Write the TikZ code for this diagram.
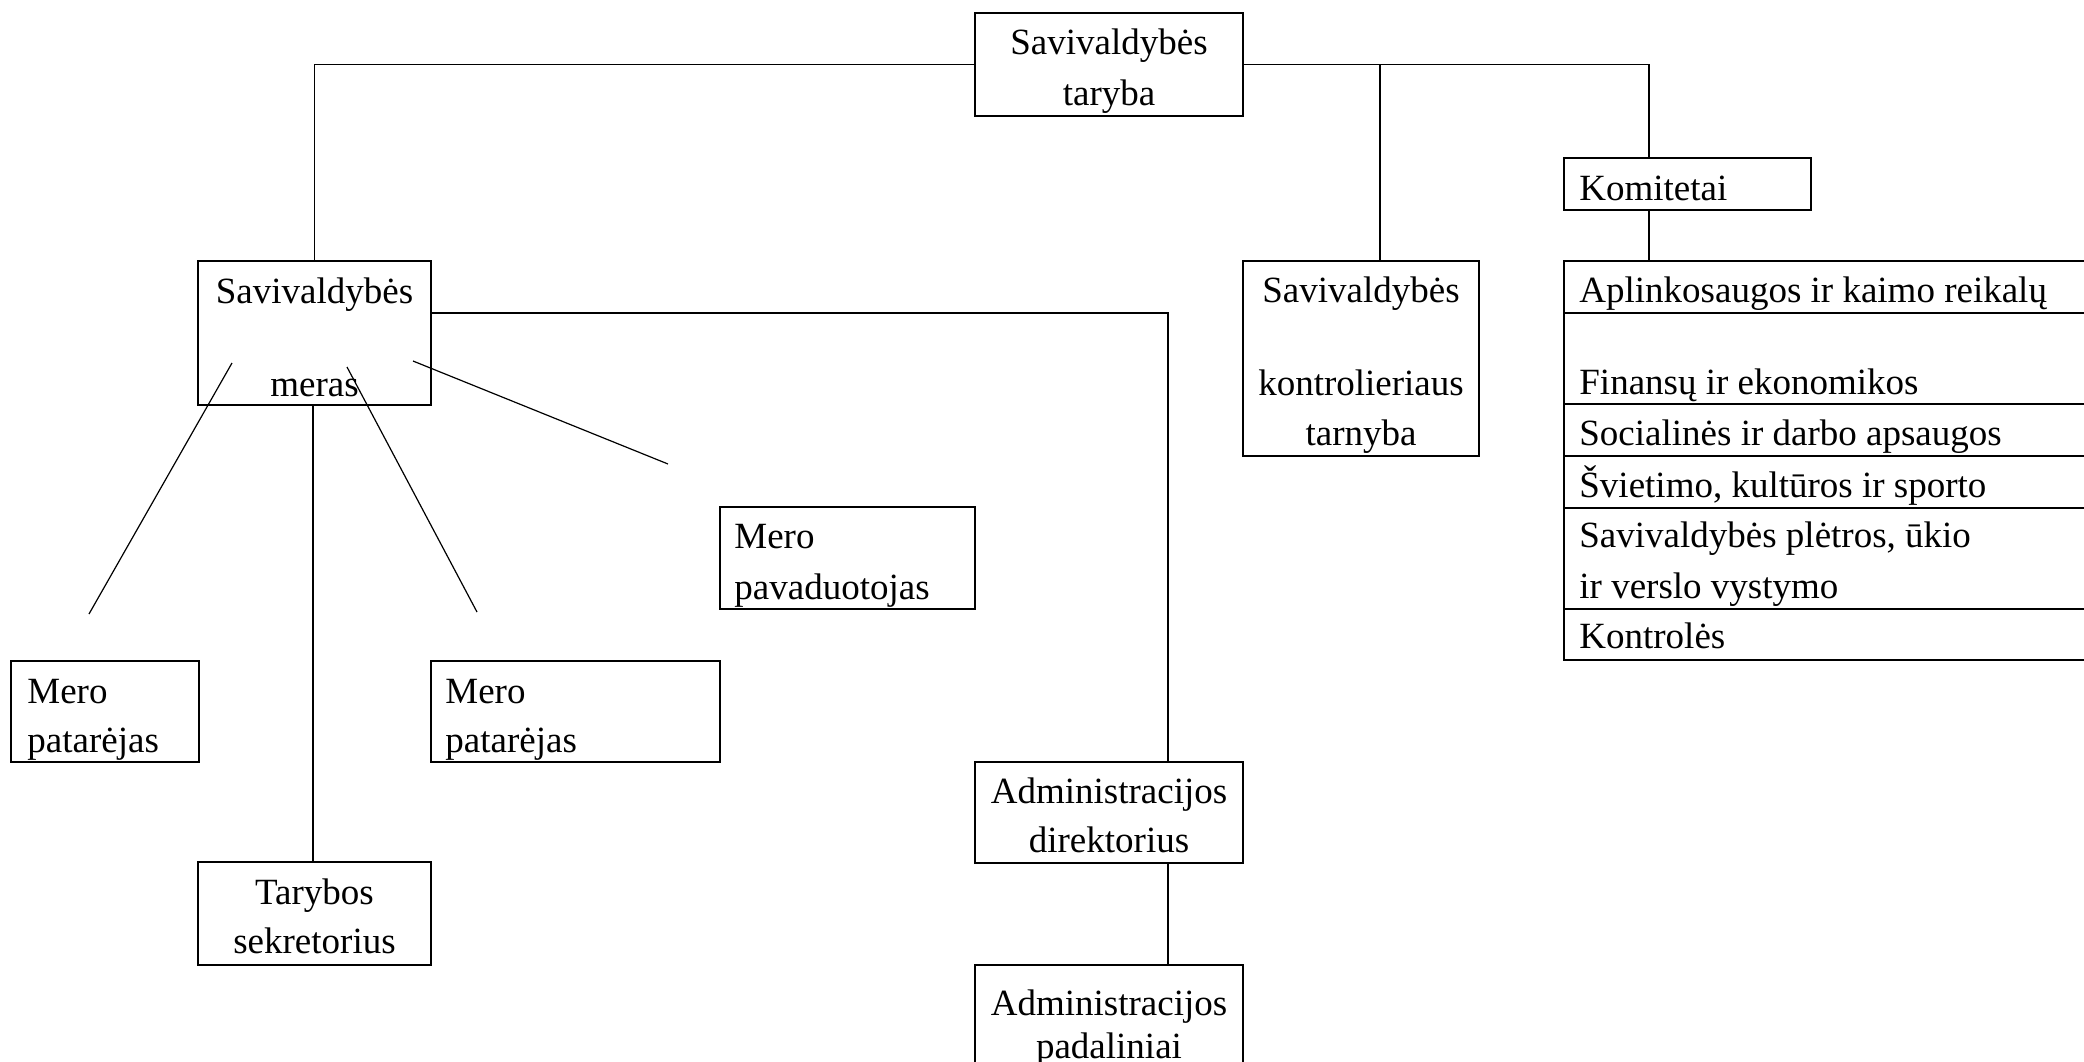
\documentclass[tikz,border=0pt]{standalone}
\usepackage{fontspec}
\setmainfont{Liberation Serif}
\usetikzlibrary{fit}
\begin{document}
\begin{tikzpicture}[x=0.5pt,y=-0.5pt,
  box/.style={draw, line width=1pt, inner sep=0pt, fill=none},
  conn/.style={line width=0.9pt},
  diag/.style={line width=0.6pt},
  sep/.style={line width=1pt},
  txt/.style={font=\fontsize{18.5}{24}\selectfont, inner sep=0pt},
  ctr/.style={txt, anchor=base},
  lft/.style={txt, anchor=base west}]
\useasboundingbox (0,0) rectangle (2084,1061);
\clip (0,0) rectangle (2084,1061);
\fill[white] (0,0) rectangle (2084,1061);

% --- boxes ---
\node[box, fit={(975,13) (1243,116)}] (taryba) {};
\node[box, fit={(198,261) (431,405)}] (meras) {};
\node[box, fit={(1243,261) (1479,456)}] (kontrol) {};
\node[box, fit={(1564,158) (1811,210)}] (komitetai) {};
\node[box, fit={(1564,261) (2120,660)}] (komlist) {};
\node[box, fit={(720,507) (975,609)}] (pavad) {};
\node[box, fit={(11,661) (199,762)}] (patar1) {};
\node[box, fit={(431,661) (720,762)}] (patar2) {};
\node[box, fit={(198,862) (431,965)}] (sekret) {};
\node[box, fit={(975,762) (1243,863)}] (direkt) {};
\node[box, fit={(975,965) (1243,1100)}] (padal) {};

% --- committee rows ---
\foreach \yy in {313,404,456,508,609}
  \draw[sep] (komlist.west |- 0,\yy) -- (komlist.east |- 0,\yy);

% --- texts ---
\node[ctr] (t-taryba1) at (1109,54) {Savivaldybės};
\node[ctr] (t-taryba2) at (1109,105) {taryba};
\node[ctr] (t-meras1) at (314.5,303) {Savivaldybės};
\node[ctr] (t-meras2) at (314.5,396) {meras};
\node[ctr] (t-kontrol1) at (1361,302.5) {Savivaldybės};
\node[ctr] (t-kontrol2) at (1361,395.5) {kontrolieriaus};
\node[ctr] (t-kontrol3) at (1361,445.5) {tarnyba};
\node[lft] (t-komitetai) at (1579,200.5) {Komitetai};
\node[lft] (t-k1) at (1579,302) {Aplinkosaugos ir kaimo reikalų};
\node[lft] (t-k2) at (1579,394) {Finansų ir ekonomikos};
\node[lft] (t-k3) at (1579,445) {Socialinės ir darbo apsaugos};
\node[lft] (t-k4) at (1579,497) {Švietimo, kultūros ir sporto};
\node[lft] (t-k5a) at (1579,547) {Savivaldybės plėtros, ūkio};
\node[lft] (t-k5b) at (1579,598) {ir verslo vystymo};
\node[lft] (t-k6) at (1579,648) {Kontrolės};
\node[lft] (t-pavad1) at (734,548.5) {Mero};
\node[lft] (t-pavad2) at (734,599.5) {pavaduotojas};
\node[lft] (t-patar1a) at (27,703) {Mero};
\node[lft] (t-patar1b) at (27,752) {patarėjas};
\node[lft] (t-patar2a) at (445,703) {Mero};
\node[lft] (t-patar2b) at (445,752) {patarėjas};
\node[ctr] (t-sekret1) at (314.5,904) {Tarybos};
\node[ctr] (t-sekret2) at (314.5,953) {sekretorius};
\node[ctr] (t-direkt1) at (1109,803) {Administracijos};
\node[ctr] (t-direkt2) at (1109,852) {direktorius};
\node[ctr] (t-padal1) at (1109,1015) {Administracijos};
\node[ctr] (t-padal2) at (1109,1058) {padaliniai};

% --- junction points ---
\coordinate (jk) at (1380,64.5);
\coordinate (jkom) at (1649,64.5);
\coordinate (meraseast) at (431,313);
\coordinate (jdir) at (1168,313);

% --- connectors ---
\draw[conn] (taryba.west) -| (meras.north);
\draw[conn] (taryba.east) -- (jkom) -- (komitetai.north -| jkom);
\draw[conn] (jk) -- (kontrol.north -| jk);
\draw[conn] (komitetai.south -| jkom) -- (komlist.north -| jkom);
\draw[conn] (meraseast) -- (jdir) -- (direkt.north -| jdir);
\draw[conn] (direkt.south -| jdir) -- (padal.north -| jdir);
\draw[conn] (meras.south -| 313,0) -- (sekret.north -| 313,0);

% --- free-ended diagonal lines from the mayor box ---
\coordinate (d1a) at (232,363);
\coordinate (d1b) at (89,614);
\coordinate (d2a) at (347,367);
\coordinate (d2b) at (477,612);
\coordinate (d3a) at (413,361);
\coordinate (d3b) at (668,464);
\draw[diag] (d1a) -- (d1b);
\draw[diag] (d2a) -- (d2b);
\draw[diag] (d3a) -- (d3b);
\end{tikzpicture}
\end{document}
